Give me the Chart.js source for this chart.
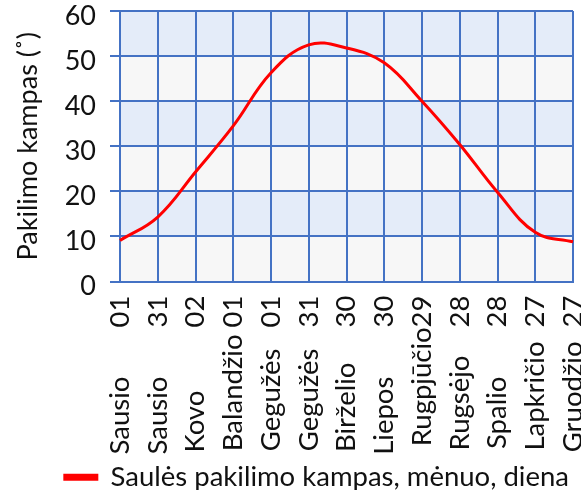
<!DOCTYPE html>
<html>
<head>
<meta charset="utf-8">
<script src="https://cdn.jsdelivr.net/npm/chart.js@4.4.1/dist/chart.umd.min.js"></script>
<style>
  html, body { margin: 0; padding: 0; background: #fff; overflow: hidden; }
</style>
</head>
<body>
<canvas id="chart" width="581" height="490"></canvas>
<script>
// data
var months = ["Sausio", "Sausio", "Kovo", "Balandžio", "Gegužės", "Gegužės", "Birželio",
              "Liepos", "Rugpjūčio", "Rugsėjo", "Spalio", "Lapkričio", "Gruodžio"];
var days = ["01", "31", "02", "01", "01", "31", "30", "30", "29", "28", "28", "27", "27"];
var angle = [9.1, 14.3, 24.3, 34.5, 46.3, 52.5, 51.8, 48.5, 40.0, 30.4, 19.8, 10.9, 8.8];
var yTicks = [0, 10, 20, 30, 40, 50, 60];
var bandColors = ["#f7f7f7", "#e4ecf9"];

var FONT = "Lato";
var labelFont = { family: FONT, size: 27.5 };

// pad month + day so all labels are the same length
var measure = document.createElement("canvas").getContext("2d");
measure.font = labelFont.size + "px " + FONT;
var target = 0;
for (var i = 0; i < months.length; i++) {
    target = Math.max(target, measure.measureText(months[i] + " " + days[i]).width);
}
var labels = months.map(function(m, i) {
    if (m == "Rugpjūčio") return m + days[i];
    var sep = " ";
    while (measure.measureText(m + sep + " " + days[i]).width <= target + 2) {
        sep += " ";
    }
    return m + sep + days[i];
});

// alternating horizontal bands behind the grid
var bands = {
    id: "bands",
    beforeDraw: function(chart) {
        var ctx = chart.ctx, area = chart.chartArea, y = chart.scales.y;
        ctx.save();
        for (var i = 0; i < yTicks.length - 1; i++) {
            var top = y.getPixelForValue(yTicks[i + 1]);
            var bot = y.getPixelForValue(yTicks[i]);
            ctx.fillStyle = bandColors[i % 2];
            ctx.fillRect(area.left, top, area.right - area.left, bot - top);
        }
        ctx.restore();
    }
};

var chart = new Chart(document.getElementById("chart"), {
    type: "line",
    data: {
        labels: labels,
        datasets: [{
            label: "Saulės pakilimo kampas, mėnuo, diena",
            data: angle,
            borderColor: "#ff0000",
            backgroundColor: "#ff0000",
            borderWidth: 3,
            pointRadius: 0,
            tension: 0.4,
            fill: false
        }]
    },
    options: {
        responsive: false,
        animation: false,
        layout: { padding: { top: 11, right: 8, left: 4, bottom: -11 } },
        plugins: {
            tooltip: { enabled: false },
            legend: {
                position: "bottom",
                align: "end",
                labels: {
                    font: { family: FONT, size: 27.5 },
                    color: "#111",
                    boxWidth: 32,
                    boxHeight: 4,
                    padding: 4
                }
            }
        },
        scales: {
            x: {
                offset: false,
                grid: { color: "#4472c4", lineWidth: 2, drawTicks: false },
                border: { color: "#4472c4", width: 2 },
                ticks: {
                    font: labelFont,
                    color: "#111",
                    minRotation: 90,
                    maxRotation: 90,
                    autoSkip: false,
                    padding: 14
                },
                afterFit: function(scale) {
                    scale.paddingLeft = 0;
                    scale.paddingRight = 0;
                    scale.height = 178;
                }
            },
            y: {
                min: 0,
                max: 60,
                grid: { color: "#4472c4", lineWidth: 2, tickLength: 10 },
                border: { color: "#4472c4", width: 2 },
                ticks: {
                    stepSize: 10,
                    font: { family: FONT, size: 27 },
                    color: "#111",
                    padding: 14,
                    labelOffset: 5
                },
                title: {
                    display: true,
                    text: "Pakilimo kampas (˚)",
                    font: { family: FONT, size: 27 },
                    color: "#111",
                    padding: { top: 8, bottom: 0 }
                },
                afterFit: function(scale) {
                    scale.width = 116;
                    scale.paddingTop = 0;
                    scale.paddingBottom = 0;
                }
            }
        }
    },
    plugins: [bands]
});
</script>
</body>
</html>
